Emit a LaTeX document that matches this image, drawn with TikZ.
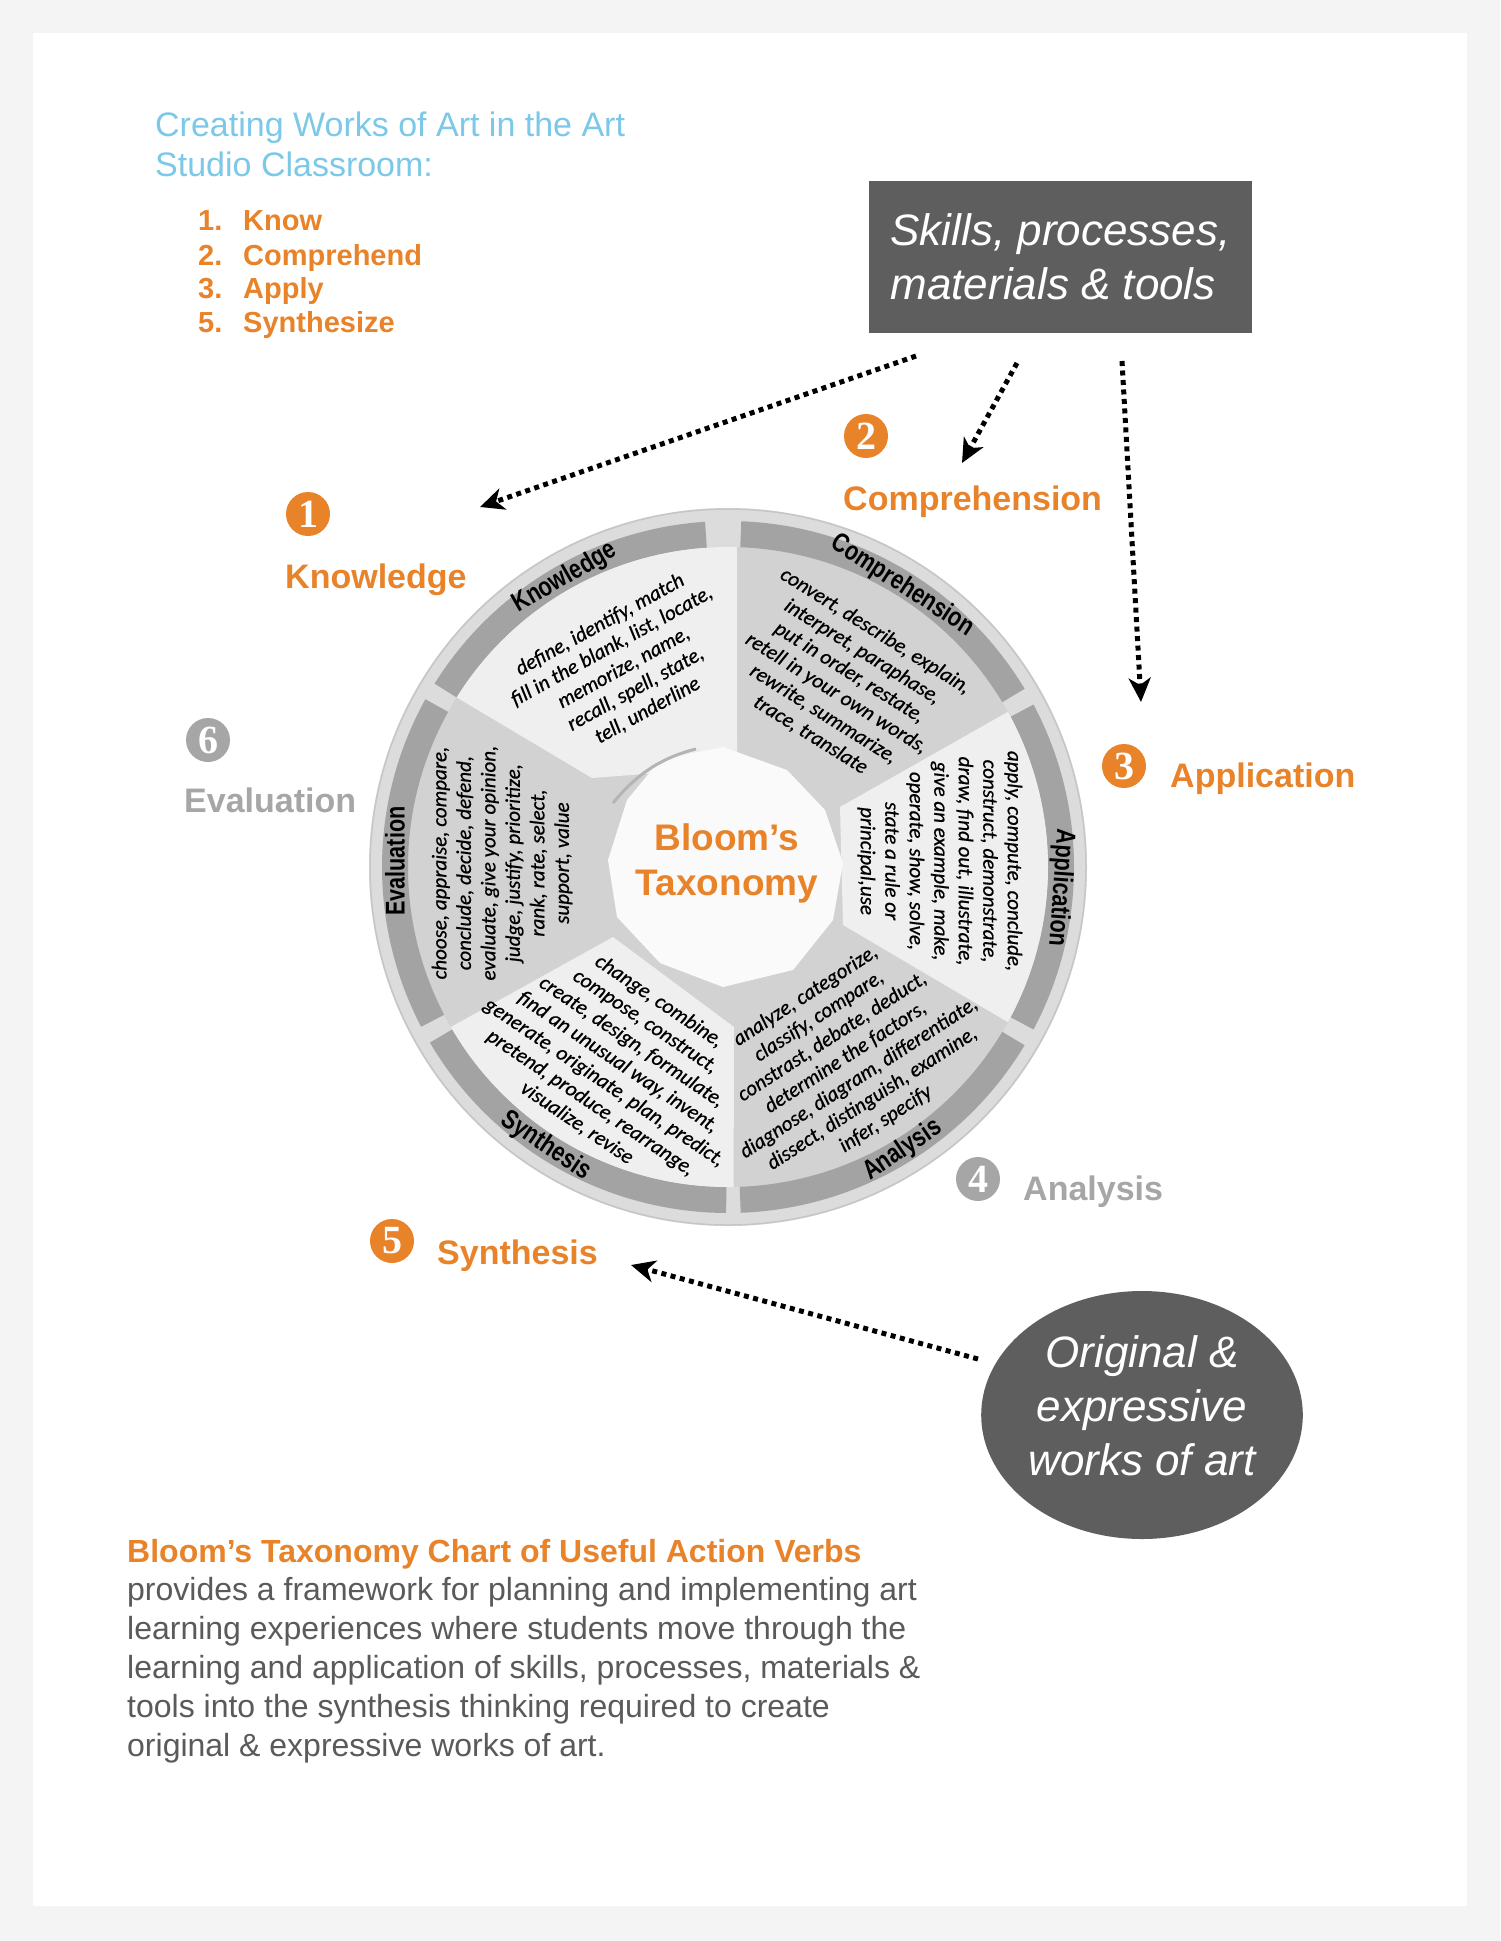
\documentclass[tikz,border=0pt]{standalone}
\usepackage{fontspec}
\usepackage{graphicx}
\setmainfont{Liberation Sans}
\newfontfamily\verbfont{Carlito}[FakeBold=0.7]
\newfontfamily\numfont{Liberation Serif}
\usetikzlibrary{shapes.geometric,arrows.meta,calc}

\definecolor{bgout}{HTML}{F4F4F4}
\definecolor{orng}{HTML}{E8832A}
\definecolor{skyb}{HTML}{7CC8E8}
\definecolor{lbgrey}{HTML}{A6A6A6}
\definecolor{boxgrey}{HTML}{5E5E5E}
\definecolor{ringlight}{HTML}{DCDCDC}
\definecolor{ringedge}{HTML}{C6C6C6}
\definecolor{bandgrey}{HTML}{A3A3A3}
\definecolor{midgrey}{HTML}{D2D2D2}
\definecolor{lightsec}{HTML}{EFEFEF}
\definecolor{centerw}{HTML}{FAFAFA}
\definecolor{bodygrey}{HTML}{5A5A5A}
\definecolor{shadowgrey}{HTML}{B4B4B4}

\newcommand{\fsz}[2]{\fontsize{#1}{#2}\selectfont}

\begin{document}
\begin{tikzpicture}[x=1pt,y=1pt,
  verbs/.style={font=\verbfont\itshape\fsz{21}{24.5}, align=center, inner sep=0},
  bandlbl/.style={font=\bfseries\fsz{27}{30}, inner sep=0},
  lbl/.style={font=\bfseries\fsz{34}{40}, inner sep=0, anchor=base west},
  numcirc/.style={circle, fill=orng, minimum size=44, inner sep=0, text=white, font=\numfont\bfseries\fsz{40}{40}},
  greycirc/.style={numcirc, fill=lbgrey},
  titleln/.style={anchor=base west, inner sep=0, text=skyb, font=\fsz{34}{40}},
  listln/.style={anchor=base west, inner sep=0, text=orng, font=\bfseries\fsz{29}{34}},
  bodyln/.style={anchor=base west, inner sep=0, text=bodygrey, font=\fsz{32}{39}},
  darkshape/.style={fill=boxgrey, text=white, font=\itshape\fsz{44}{54}, inner sep=0},
  dotarrow/.style={line width=5pt, dash pattern=on 5pt off 4.5pt, -{Stealth[length=24pt,width=22pt,inset=7pt]}}
]
\useasboundingbox (0,0) rectangle (1500,-1941);
\fill[bgout] (0,0) rectangle (1500,-1941);
\fill[white] (33,-33) rectangle (1467,-1906);

% ---------------- title and list ----------------
\node[titleln] (t1) at (155,-136) {Creating Works of Art in the Art};
\node[titleln] (t2) at (155,-176) {Studio Classroom:};
\node[listln] (n1) at (198,-230) {1.};
\node[listln] (i1) at (243,-230) {Know};
\node[listln] (n2) at (198,-265) {2.};
\node[listln] (i2) at (243,-265) {Comprehend};
\node[listln] (n3) at (198,-298) {3.};
\node[listln] (i3) at (243,-298) {Apply};
\node[listln] (n5) at (198,-332) {5.};
\node[listln] (i5) at (243,-332) {Synthesize};

% ---------------- skills box ----------------
\node[darkshape, rectangle, minimum width=383, minimum height=152, align=left] (skills) at (1060.5,-257) {Skills, processes,\\materials \& tools};

% ---------------- wheel ----------------
\coordinate (O) at (728,-867);
\fill[ringlight] (O) circle (359);
\draw[ringedge, line width=1.5pt] (O) circle (358);
\fill[midgrey] (O) circle (320);
\foreach \a/\b in {-28/28, 31/87.8, 93.8/148, 151/207.5, 210.5/269.7, 272.1/329} {
  \fill[bandgrey] ($(O)+(\a:346)$) arc (\a:\b:346) -- ($(O)+(\b:320)$) arc (\b:\a:320) -- cycle;
}
% light sectors
\fill[lightsec] ($(O)+(148:320)$) arc (148:88.4:320) -- (737,-767) -- (592,-778) -- cycle;
\fill[lightsec] ($(O)+(29:320)$) arc (29:-29:320) -- (843,-925) -- (840,-807) -- cycle;
\fill[lightsec] ($(O)+(210:320)$) arc (210:271:320) -- (734,-1027) -- (613,-937) -- cycle;
% centre polygon
\fill[centerw] (723,-747) -- (787,-770) -- (825,-810) -- (843,-863) -- (833,-920) -- (793,-970) -- (723,-987) -- (660,-963) -- (617,-917) -- (608,-860) -- (627,-800) -- (660,-760) -- cycle;
\draw[shadowgrey, line width=3pt] (613,-803) .. controls (636,-775) and (660,-758) .. (696,-749);

\node[font=\bfseries\fsz{37}{45}, text=orng, align=center, inner sep=0] (bt) at (727,-863) {Bloom’s\\Taxonomy};

% band labels
\node[bandlbl, rotate=30]  (bk) at ($(O)+(119.4:332)$) {\scalebox{0.8}[1]{Knowledge}};
\node[bandlbl, rotate=-33] (bc) at ($(O)+(58.2:331)$) {\scalebox{0.8}[1]{Comprehension}};
\node[bandlbl, rotate=-94] (ba) at ($(O)+(-3.6:333)$) {\scalebox{0.8}[1]{Application}};
\node[bandlbl, rotate=34]  (bn) at ($(O)+(-58.3:333)$) {\scalebox{0.8}[1]{Analysis}};
\node[bandlbl, rotate=-34] (bs) at ($(O)+(236.9:333)$) {\scalebox{0.8}[1]{Synthesis}};
\node[bandlbl, rotate=90]  (be) at ($(O)+(179:333)$) {\scalebox{0.8}[1]{Evaluation}};

% verbs
\node[verbs, rotate=29] (vk) at ($(O)+(117.6:225)$) {define, identify, match\\fill in the blank, list, locate,\\memorize, name,\\recall, spell, state,\\tell, underline};
\node[verbs, rotate=-32] (vc) at ($(O)+(58:217)$) {convert, describe, explain,\\interpret, paraphase,\\put in order, restate,\\retell in your own words,\\rewrite, summarize,\\trace, translate};
\node[verbs, rotate=-90] (va) at ($(O)+(1.6:212)$) {apply, compute, conclude,\\construct, demonstrate,\\draw, find out, illustrate,\\give an example, make,\\operate, show, solve,\\state a rule or\\principal,use};
\node[verbs, rotate=33] (vn) at ($(O)+(-58.3:224)$) {analyze, categorize,\\classify, compare,\\constrast, debate, deduct,\\determine the factors,\\diagnose, diagram, differentiate,\\dissect, distinguish, examine,\\infer, specify};
\node[verbs, rotate=-34] (vs) at ($(O)+(240.6:224)$) {change, combine,\\compose, construct,\\create, design, formulate,\\find an unusual way, invent,\\generate, originate, plan, predict,\\pretend, produce, rearrange,\\visualize, revise};
\node[verbs, rotate=90] (ve) at ($(O)+(179:226)$) {choose, appraise, compare,\\conclude, decide, defend,\\evaluate, give your opinion,\\judge, justify, prioritize,\\rank, rate, select,\\support, value};

% ---------------- level labels ----------------
\node[numcirc] (c1) at (308,-514) {1};
\node[lbl, text=orng] (l1) at (285,-588) {Knowledge};
\node[numcirc] (c2) at (866,-436) {2};
\node[lbl, text=orng] (l2) at (843,-510) {Comprehension};
\node[numcirc] (c3) at (1124,-766) {3};
\node[lbl, text=orng] (l3) at (1170,-787) {Application};
\node[greycirc] (c4) at (978,-1179) {4};
\node[lbl, text=lbgrey] (l4) at (1023,-1200) {Analysis};
\node[numcirc] (c5) at (392,-1241) {5};
\node[lbl, text=orng] (l5) at (437,-1264) {Synthesis};
\node[greycirc] (c6) at (208,-740) {6};
\node[lbl, text=lbgrey] (l6) at (184,-812) {Evaluation};

% ---------------- ellipse ----------------
\node[darkshape, ellipse, minimum width=308, minimum height=248, align=center, text depth=18pt] (orig) at (1142,-1415) {Original \&\\expressive\\works of art};

% ---------------- arrows ----------------
\coordinate (a1s) at (916,-356);
\coordinate (a1e) at (480,-507);
\coordinate (a2s) at (1017,-363);
\coordinate (a2e) at (962,-463);
\coordinate (a3s) at (1122,-361);
\coordinate (a3e) at (1141,-702);
\coordinate (a5s) at (978,-1359);
\coordinate (a5e) at (631,-1265);
\draw[dotarrow] (a1s) -- (a1e);
\draw[dotarrow] (a2s) -- (a2e);
\draw[dotarrow] (a3s) -- (a3e);
\draw[dotarrow] (a5s) -- (a5e);

% ---------------- bottom text ----------------
\node[anchor=base west, inner sep=0, text=orng, font=\bfseries\fsz{32}{39}] (bh) at (127,-1562) {Bloom’s Taxonomy Chart of Useful Action Verbs};
\node[bodyln] (p1) at (127,-1600) {provides a framework for planning and implementing art};
\node[bodyln] (p2) at (127,-1639) {learning experiences where students move through the};
\node[bodyln] (p3) at (127,-1678) {learning and application of skills, processes, materials \&};
\node[bodyln] (p4) at (127,-1717) {tools into the synthesis thinking required to create};
\node[bodyln] (p5) at (127,-1756) {original \& expressive works of art.};
\end{tikzpicture}
\end{document}
